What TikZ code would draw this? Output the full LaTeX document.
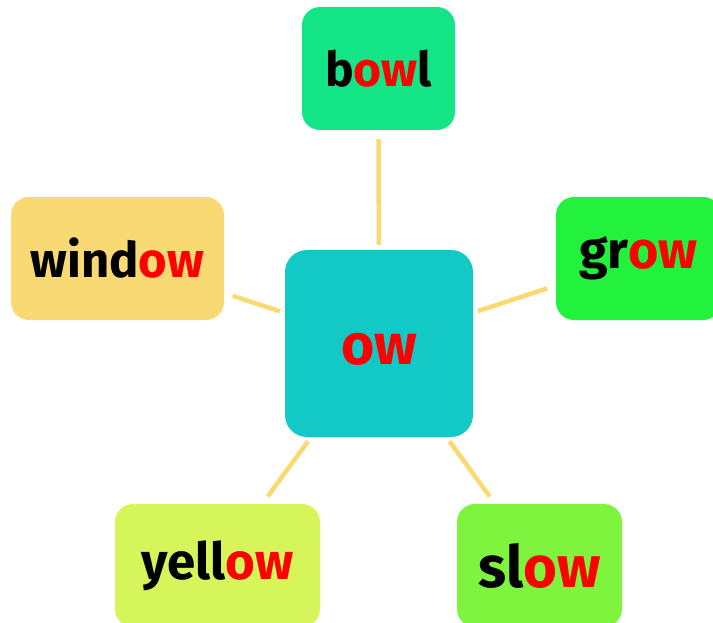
\documentclass[tikz,border=0pt]{standalone}
\usepackage{fontspec}
\setmainfont{Fira Sans}
\usepackage{tikz}
\usetikzlibrary{positioning}

\definecolor{owred}{RGB}{255,0,0}
\definecolor{hubteal}{RGB}{19,201,197}
\definecolor{linkgold}{RGB}{250,218,112}
\definecolor{bowlgreen}{RGB}{20,230,136}
\definecolor{windowgold}{RGB}{249,217,116}
\definecolor{growgreen}{RGB}{35,242,60}
\definecolor{yellowlime}{RGB}{214,245,90}
\definecolor{slowgreen}{RGB}{126,244,62}

\newcommand{\ow}{\textcolor{owred}{ow}}
\newcommand{\wordsize}[1]{\fontsize{#1}{#1}\selectfont\bfseries}

\tikzset{
  wordbox/.style={rectangle, rounded corners=18pt, inner sep=0pt,
    minimum height=123pt, font=\wordsize{48}},
  link/.style={draw=linkgold, line width=4.5pt, shorten <=5pt, shorten >=9pt}
}

\begin{document}
\begin{tikzpicture}[x=1pt,y=-1pt]
\clip (0,0) rectangle (713,623);

\node[wordbox, fill=hubteal, rounded corners=22pt, minimum width=188pt, minimum height=187pt] (hub) at (379,343.5) {};
\node[font=\wordsize{57}, yshift=-6pt] (hubtext) at (hub) {\ow};

\node[wordbox, fill=bowlgreen, minimum width=153pt] (bowl) at (378.5,68.5) {b\ow l};
\node[wordbox, fill=windowgold, minimum width=213pt, font=\wordsize{49}] (window) at (117.5,258.5) {wind\ow};
\node[wordbox, fill=growgreen, minimum width=165pt, font=\wordsize{52}] (grow) at (638.5,258.5) {gr\ow};
\node[wordbox, fill=yellowlime, minimum width=205pt, font=\wordsize{51}] (yellow) at (217.5,565.5) {yell\ow};
\node[wordbox, fill=slowgreen, minimum width=165pt, font=\wordsize{58}] (slow) at (539.5,565.5) {sl\ow};

% spokes
\draw[link] (hub) -- (bowl);
\draw[link] (hub) -- (window);
\draw[link] (hub) -- (grow);
\draw[link] (hub) -- (yellow);
\draw[link] (hub) -- (slow);
\end{tikzpicture}
\end{document}
